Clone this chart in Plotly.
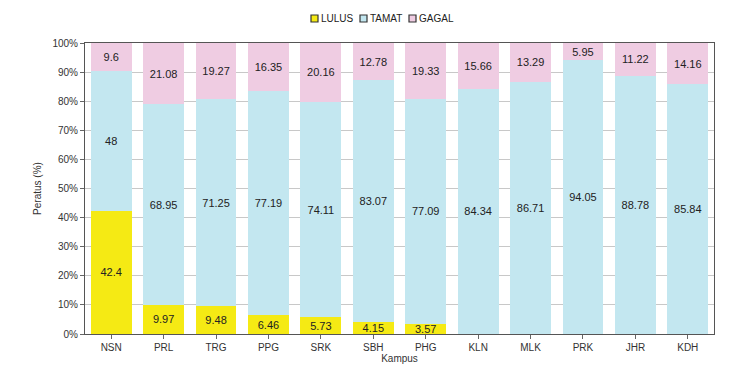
import plotly.graph_objects as go

kampus = ["NSN", "PRL", "TRG", "PPG", "SRK", "SBH", "PHG", "KLN", "MLK", "PRK", "JHR", "KDH"]
lulus = [42.4, 9.97, 9.48, 6.46, 5.73, 4.15, 3.57, 0, 0, 0, 0, 0]
tamat = [48, 68.95, 71.25, 77.19, 74.11, 83.07, 77.09, 84.34, 86.71, 94.05, 88.78, 85.84]
gagal = [9.6, 21.08, 19.27, 16.35, 20.16, 12.78, 19.33, 15.66, 13.29, 5.95, 11.22, 14.16]

series = [("LULUS", lulus, "#F5EA14"), ("TAMAT", tamat, "#C3E7F0"), ("GAGAL", gagal, "#EFCCE2")]
FONT = "Liberation Sans, Arial"

fig = go.Figure()
for name, vals, col in series:
    fig.add_trace(go.Bar(
        x=kampus, y=vals, name=name, showlegend=False,
        marker=dict(color=col, line=dict(width=0)),
        text=[("%g" % v) if v else "" for v in vals],
        textposition="inside", insidetextanchor="middle", textangle=0,
        constraintext="none",
        textfont=dict(family=FONT, size=11, color="#222222"),
        hoverinfo="skip",
    ))

# manual compact legend (top centre)
W, H = 748, 368
L, R, T, B = 85, 34, 43, 34
pw, ph = W - L - R, H - T - B
legend_x = [311, 360, 409]  # pixel positions of legend swatches
for (name, vals, col), px in zip(series, legend_x):
    fig.add_shape(type="rect", xref="paper", yref="paper",
                  x0=(px - L) / pw, x1=(px + 7 - L) / pw,
                  y0=(H - B - 22) / ph, y1=(H - B - 15) / ph,
                  fillcolor=col, line=dict(color="#333333", width=1.2))
    fig.add_annotation(text=name, xref="paper", yref="paper",
                       x=(px + 9 - L) / pw, y=(H - B - 18.5) / ph,
                       xanchor="left", yanchor="middle", showarrow=False,
                       borderpad=0,
                       font=dict(family=FONT, size=10, color="#222222"))

fig.update_layout(
    barmode="stack", bargap=0.22,
    width=W, height=H, showlegend=False,
    margin=dict(l=L, r=R, t=T, b=B),
    paper_bgcolor="white", plot_bgcolor="white",
    font=dict(family=FONT, size=10, color="#333333"),
    xaxis=dict(title=dict(text="Kampus", standoff=2, font=dict(size=10)),
               ticks="outside", ticklen=4, tickcolor="#666666",
               showline=True, linecolor="#555555", mirror=True,
               tickfont=dict(size=10), automargin=False),
    yaxis=dict(title=dict(text="Peratus (%)", standoff=8, font=dict(size=10)),
               range=[0, 100], dtick=10, ticksuffix="%",
               ticks="outside", ticklen=4, tickcolor="#666666",
               showgrid=True, gridcolor="#C8C8C8",
               showline=True, linecolor="#555555", mirror=True,
               tickfont=dict(size=10), automargin=False),
)
fig.write_html("out.html", config={"displayModeBar": False})

# remove default body margin so the figure sits at the window's top-left
with open("out.html", encoding="utf-8") as f:
    html = f.read()
html = html.replace("<head>", "<head><style>body{margin:0;overflow:hidden}</style>", 1)
with open("out.html", "w", encoding="utf-8") as f:
    f.write(html)
